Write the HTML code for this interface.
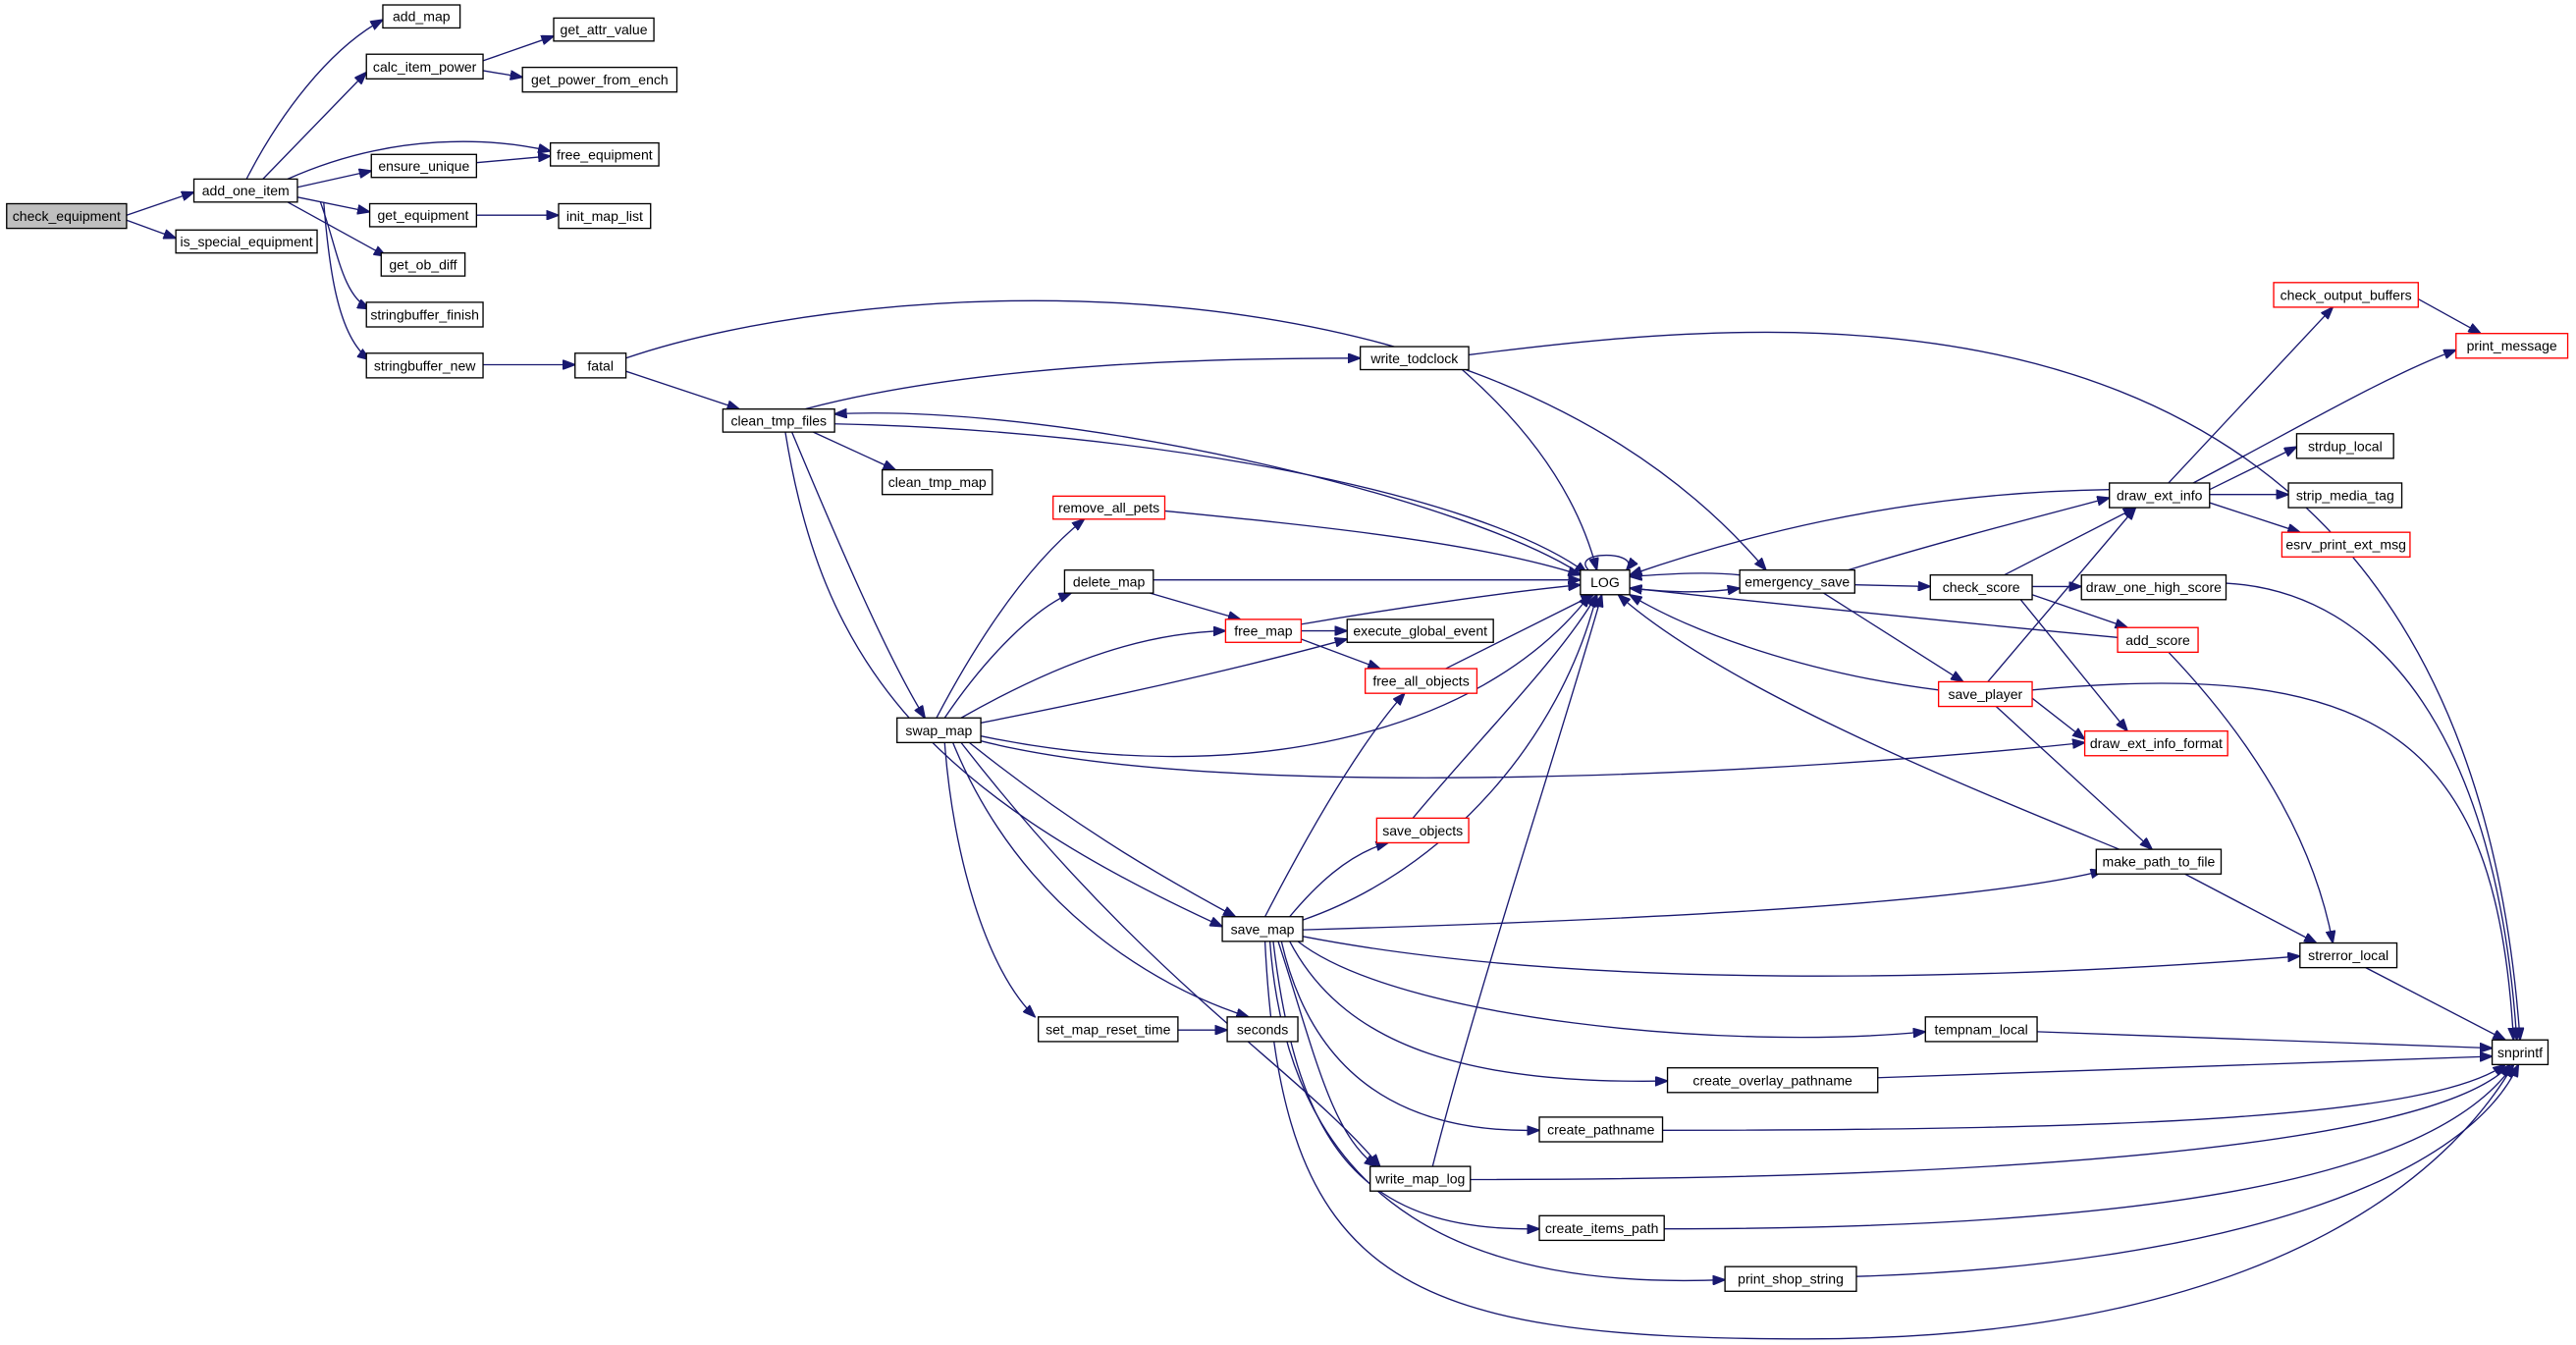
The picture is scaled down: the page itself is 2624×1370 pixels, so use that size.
<!DOCTYPE html>
<html><head><meta charset="utf-8"><style>
html,body{margin:0;padding:0;background:#fff;}
svg{display:block;}
text{font-family:"Liberation Sans",sans-serif;font-size:8.4px;fill:#000;text-anchor:middle;dominant-baseline:central;}
rect{fill:#fff;stroke:#000;stroke-width:0.8;}
rect.r{stroke:#ff0000;}
rect.g{fill:#bfbfbf;}
path{fill:none;stroke:#191970;stroke-width:0.8;}
</style></head><body>
<svg width="2624" height="1370" viewBox="0 0 1568 818.7" xmlns="http://www.w3.org/2000/svg">
<defs><marker id="a" markerUnits="userSpaceOnUse" markerWidth="8" markerHeight="6" refX="7.5" refY="3" orient="auto"><path d="M0,0 L8,3 L0,6 Z" style="fill:#191970;stroke:#191970;stroke-width:0.5"/></marker></defs>
<g marker-end="url(#a)">
<path d="M77,131 L118,117"/>
<path d="M77,134 L107,145"/>
<path d="M150,109 C170,70 200,30 233,12"/>
<path d="M160,109 L223,44"/>
<path d="M175,109 C240,80 300,84 335,92"/>
<path d="M181,114 L226,104"/>
<path d="M181,120 L225,129"/>
<path d="M175,123 L235,156"/>
<path d="M195,123 C205,150 208,180 225,188"/>
<path d="M197,123 C200,160 205,205 225,219"/>
<path d="M294,37 L337,22"/>
<path d="M294,43 L318,47"/>
<path d="M290,99 L335,95"/>
<path d="M290,131 L340,131"/>
<path d="M294,222 L350,222"/>
<path d="M381,226 L450,249"/>
<path d="M381,218 C520,170 900,140 1075,347"/>
<path d="M490,249 C600,220 750,218 828,218"/>
<path d="M495,263 L545,286"/>
<path d="M508,258 C700,262 900,300 966,349"/>
<path d="M966,352 C900,305 650,245 508,252"/>
<path d="M482,263 C510,330 540,400 563,437"/>
<path d="M478,263 C500,400 560,480 744,564"/>
<path d="M890,225 C930,260 960,300 972,347"/>
<path d="M894,216 C1100,190 1500,150 1534,633"/>
<path d="M709,311 C800,320 900,330 962,350"/>
<path d="M702,353 L962,353"/>
<path d="M700,361 L755,377"/>
<path d="M792,380 C850,370 920,360 962,356"/>
<path d="M792,384 L820,384"/>
<path d="M792,389 L840,407"/>
<path d="M880,407 L970,362"/>
<path d="M967,347 C955,335 1000,335 990,347"/>
<path d="M992,358 C1020,361 1040,361 1059,358"/>
<path d="M1059,350 C1040,348 1020,349 992,351"/>
<path d="M1129,356 L1175,357"/>
<path d="M1125,347 C1180,330 1250,312 1284,303"/>
<path d="M1110,361 L1195,415"/>
<path d="M1220,350 L1300,309"/>
<path d="M1237,357 L1267,357"/>
<path d="M1237,362 L1295,382"/>
<path d="M1230,365 L1295,445"/>
<path d="M1289,388 C1150,375 1050,364 992,358"/>
<path d="M1180,420 C1100,410 1030,385 992,362"/>
<path d="M1210,415 L1300,309"/>
<path d="M1237,425 L1269,450"/>
<path d="M1215,430 L1310,517"/>
<path d="M1237,420 C1450,400 1520,450 1530,633"/>
<path d="M1320,397 C1380,460 1410,520 1420,574"/>
<path d="M1284,298 C1150,300 1050,330 992,350"/>
<path d="M1320,294 L1420,187"/>
<path d="M1335,294 C1400,260 1450,230 1495,213"/>
<path d="M1345,298 L1398,272"/>
<path d="M1345,301 L1393,301"/>
<path d="M1345,306 L1400,324"/>
<path d="M1472,182 L1510,203"/>
<path d="M1355,355 C1450,360 1520,450 1532,633"/>
<path d="M1290,517 C1200,480 1050,420 985,362"/>
<path d="M1330,532 L1410,574"/>
<path d="M1440,589 L1525,633"/>
<path d="M570,437 C600,380 630,340 660,316"/>
<path d="M575,437 C600,400 630,370 652,361"/>
<path d="M585,437 C650,400 700,385 746,384"/>
<path d="M597,440 C700,420 780,400 820,389"/>
<path d="M597,448 C750,480 900,450 968,362"/>
<path d="M597,451 C750,490 1100,470 1269,452"/>
<path d="M590,452 C650,500 700,530 752,558"/>
<path d="M575,452 C580,520 600,590 630,619"/>
<path d="M580,452 C620,550 700,600 760,619"/>
<path d="M585,452 C700,600 790,650 840,710"/>
<path d="M770,558 C800,500 830,450 855,422"/>
<path d="M785,558 C800,540 820,520 845,513"/>
<path d="M793,560 C880,530 950,450 972,362"/>
<path d="M793,566 C1000,560 1200,550 1280,530"/>
<path d="M793,570 C1000,610 1300,590 1400,582"/>
<path d="M790,573 C850,620 1050,640 1172,628"/>
<path d="M785,573 C820,640 900,660 1015,658"/>
<path d="M780,573 C800,660 860,690 937,688"/>
<path d="M778,573 C800,640 810,690 838,710"/>
<path d="M775,573 C790,700 830,750 937,748"/>
<path d="M773,573 C785,740 900,785 1050,779"/>
<path d="M770,573 C780,780 850,815 1100,815 C1400,815 1500,700 1530,648"/>
<path d="M860,498 C900,450 950,400 972,362"/>
<path d="M872,710 C900,600 950,450 975,362"/>
<path d="M717,627 L747,627"/>
<path d="M1240,628 L1517,638"/>
<path d="M1143,656 L1517,643"/>
<path d="M1012,688 C1300,688 1480,680 1525,648"/>
<path d="M895,718 C1200,718 1480,700 1528,648"/>
<path d="M1013,748 C1300,748 1480,720 1530,648"/>
<path d="M1130,777 C1350,770 1500,720 1533,648"/>
</g>
<g>
<rect class="g" x="4" y="124" width="73" height="15"/><text x="40.5" y="131.5">check_equipment</text>
<rect x="118" y="109" width="63" height="14"/><text x="149.5" y="116">add_one_item</text>
<rect x="107" y="140" width="86" height="14"/><text x="150" y="147">is_special_equipment</text>
<rect x="233" y="3" width="47" height="14"/><text x="256.5" y="10">add_map</text>
<rect x="223" y="33" width="71" height="15"/><text x="258.5" y="40.5">calc_item_power</text>
<rect x="337" y="11" width="61" height="14"/><text x="367.5" y="18">get_attr_value</text>
<rect x="318" y="41" width="94" height="15"/><text x="365" y="48.5">get_power_from_ench</text>
<rect x="335" y="87" width="66" height="14"/><text x="368" y="94">free_equipment</text>
<rect x="226" y="94" width="64" height="14"/><text x="258" y="101">ensure_unique</text>
<rect x="225" y="124" width="65" height="14"/><text x="257.5" y="131">get_equipment</text>
<rect x="340" y="124" width="56" height="15"/><text x="368" y="131.5">init_map_list</text>
<rect x="232" y="154" width="51" height="14"/><text x="257.5" y="161">get_ob_diff</text>
<rect x="223" y="184" width="71" height="15"/><text x="258.5" y="191.5">stringbuffer_finish</text>
<rect x="223" y="215" width="71" height="15"/><text x="258.5" y="222.5">stringbuffer_new</text>
<rect x="350" y="215" width="31" height="15"/><text x="365.5" y="222.5">fatal</text>
<rect x="440" y="249" width="68" height="14"/><text x="474" y="256">clean_tmp_files</text>
<rect x="828" y="211" width="66" height="14"/><text x="861" y="218">write_todclock</text>
<rect x="537" y="286" width="67" height="15"/><text x="570.5" y="293.5">clean_tmp_map</text>
<rect class="r" x="641" y="302" width="68" height="14"/><text x="675" y="309">remove_all_pets</text>
<rect x="648" y="347" width="54" height="14"/><text x="675" y="354">delete_map</text>
<rect class="r" x="746" y="377" width="46" height="14"/><text x="769" y="384">free_map</text>
<rect x="820" y="377" width="89" height="14"/><text x="864.5" y="384">execute_global_event</text>
<rect class="r" x="831" y="407" width="68" height="15"/><text x="865" y="414.5">free_all_objects</text>
<rect x="962" y="347" width="30" height="15"/><text x="977" y="354.5">LOG</text>
<rect x="1059" y="347" width="70" height="14"/><text x="1094" y="354">emergency_save</text>
<rect x="1175" y="350" width="62" height="15"/><text x="1206" y="357.5">check_score</text>
<rect x="1267" y="350" width="88" height="15"/><text x="1311" y="357.5">draw_one_high_score</text>
<rect class="r" x="1289" y="382" width="49" height="15"/><text x="1313.5" y="389.5">add_score</text>
<rect class="r" x="1180" y="415" width="57" height="15"/><text x="1208.5" y="422.5">save_player</text>
<rect class="r" x="1269" y="445" width="87" height="15"/><text x="1312.5" y="452.5">draw_ext_info_format</text>
<rect x="1284" y="294" width="61" height="15"/><text x="1314.5" y="301.5">draw_ext_info</text>
<rect class="r" x="1384" y="172" width="88" height="15"/><text x="1428" y="179.5">check_output_buffers</text>
<rect class="r" x="1495" y="203" width="68" height="15"/><text x="1529" y="210.5">print_message</text>
<rect x="1398" y="264" width="59" height="15"/><text x="1427.5" y="271.5">strdup_local</text>
<rect x="1393" y="294" width="69" height="15"/><text x="1427.5" y="301.5">strip_media_tag</text>
<rect class="r" x="1389" y="324" width="78" height="15"/><text x="1428" y="331.5">esrv_print_ext_msg</text>
<rect x="546" y="437" width="51" height="15"/><text x="571.5" y="444.5">swap_map</text>
<rect class="r" x="838" y="498" width="56" height="15"/><text x="866" y="505.5">save_objects</text>
<rect x="744" y="558" width="49" height="15"/><text x="768.5" y="565.5">save_map</text>
<rect x="1276" y="517" width="76" height="15"/><text x="1314" y="524.5">make_path_to_file</text>
<rect x="1400" y="574" width="59" height="15"/><text x="1429.5" y="581.5">strerror_local</text>
<rect x="1517" y="633" width="34" height="15"/><text x="1534" y="640.5">snprintf</text>
<rect x="632" y="619" width="85" height="15"/><text x="674.5" y="626.5">set_map_reset_time</text>
<rect x="747" y="619" width="43" height="15"/><text x="768.5" y="626.5">seconds</text>
<rect x="1172" y="619" width="68" height="15"/><text x="1206" y="626.5">tempnam_local</text>
<rect x="1015" y="650" width="128" height="15"/><text x="1079" y="657.5">create_overlay_pathname</text>
<rect x="937" y="680" width="75" height="15"/><text x="974.5" y="687.5">create_pathname</text>
<rect x="834" y="710" width="61" height="15"/><text x="864.5" y="717.5">write_map_log</text>
<rect x="937" y="740" width="76" height="15"/><text x="975" y="747.5">create_items_path</text>
<rect x="1050" y="771" width="80" height="15"/><text x="1090" y="778.5">print_shop_string</text>
</g>
</svg>
</body></html>
